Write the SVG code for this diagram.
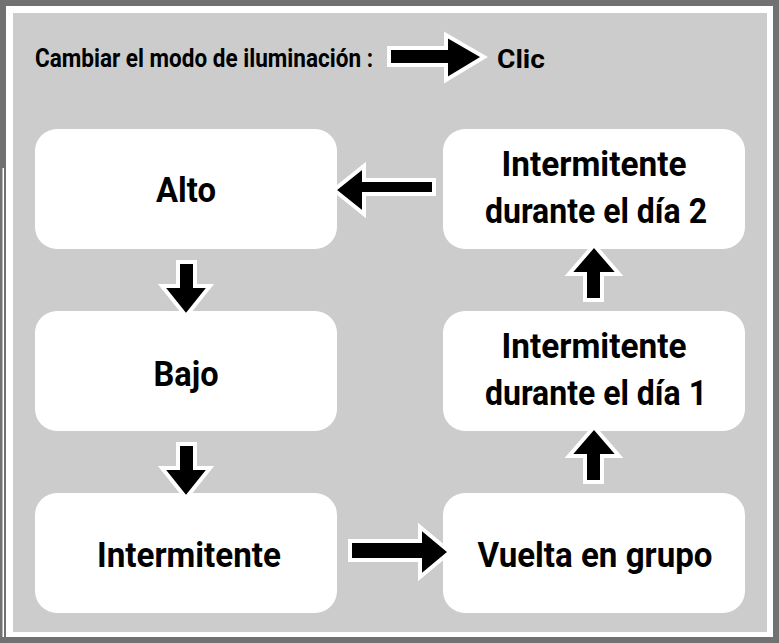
<svg xmlns="http://www.w3.org/2000/svg" width="779" height="643" viewBox="0 0 779 643">
<style>
.frame{fill:#717171}
.node rect{fill:#ffffff}
.t{font-family:"Roboto","Liberation Sans",sans-serif;font-weight:bold;fill:#000;text-anchor:middle}
.n{font-size:35px}
.lg{font-size:25px;text-anchor:start}
.arr{fill:#000;stroke:#fff;stroke-width:4;stroke-linejoin:miter}
</style>
<rect class="frame" x="0" y="0" width="779" height="643"/>
<rect x="6" y="6" width="767" height="631" fill="#ffffff"/>
<rect x="0" y="168" width="2.5" height="475" fill="#717171"/>
<rect x="2.5" y="168" width="1.5" height="469" fill="#ffffff"/>
<rect x="13" y="13" width="754" height="619" fill="#cbcccb"/>

<g id="legend">
<text class="t lg" x="35" y="67" textLength="338" lengthAdjust="spacingAndGlyphs">Cambiar el modo de iluminación :</text>
<polygon class="arr" points="389,48 446,48 446,35 484,57 446,80 446,65 389,65"/>
<text class="t lg" x="497" y="68" textLength="48" lengthAdjust="spacingAndGlyphs">Clic</text>
</g>

<g id="node-alto" class="node">
<rect x="35" y="129" width="302" height="120" rx="22"/>
<text class="t n" x="186" y="202" textLength="60" lengthAdjust="spacingAndGlyphs">Alto</text>
</g>
<g id="node-bajo" class="node">
<rect x="35" y="311" width="302" height="120" rx="22"/>
<text class="t n" x="186" y="386" textLength="65" lengthAdjust="spacingAndGlyphs">Bajo</text>
</g>
<g id="node-intermitente" class="node">
<rect x="35" y="493" width="302" height="120" rx="22"/>
<text class="t n" x="189" y="567" textLength="184" lengthAdjust="spacingAndGlyphs">Intermitente</text>
</g>
<g id="node-dia2" class="node">
<rect x="443" y="129" width="302" height="120" rx="22"/>
<text class="t n" x="594" y="176" textLength="185" lengthAdjust="spacingAndGlyphs">Intermitente</text>
<text class="t n" x="596" y="223" textLength="222" lengthAdjust="spacingAndGlyphs">durante el día 2</text>
</g>
<g id="node-dia1" class="node">
<rect x="443" y="311" width="302" height="120" rx="22"/>
<text class="t n" x="594" y="358" textLength="185" lengthAdjust="spacingAndGlyphs">Intermitente</text>
<text class="t n" x="596" y="405" textLength="222" lengthAdjust="spacingAndGlyphs">durante el día 1</text>
</g>
<g id="node-vuelta" class="node">
<rect x="443" y="493" width="302" height="120" rx="22"/>
<text class="t n" x="595" y="567" textLength="235" lengthAdjust="spacingAndGlyphs">Vuelta en grupo</text>
</g>

<g id="connectors">
<polygon class="arr" points="434,180 364,180 364,166 334,190 364,214 364,194 434,194"/>
<polygon class="arr" points="178,262 195,262 195,286 210,286 186,316 162,286 178,286"/>
<polygon class="arr" points="178,444 195,444 195,468 210,468 186,498 162,468 178,468"/>
<polygon class="arr" points="350,541 420,541 420,527 450,552 420,577 420,560 350,560"/>
<polygon class="arr" points="585,300 602,300 602,274 619,274 594,245 569,274 585,274"/>
<polygon class="arr" points="585,482 602,482 602,456 619,456 594,427 569,456 585,456"/>
</g>
</svg>
